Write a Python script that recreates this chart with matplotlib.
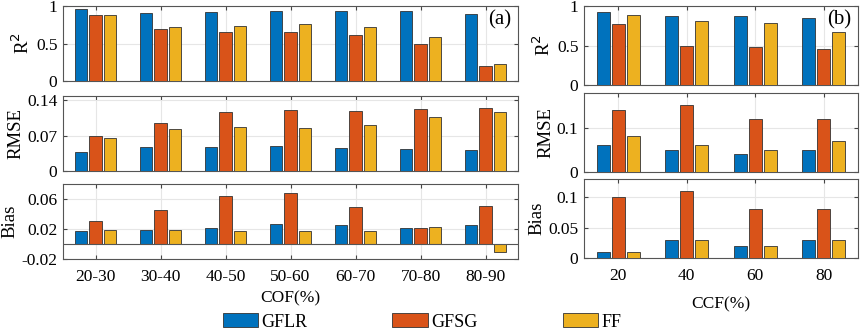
import numpy as np
import matplotlib
matplotlib.use("Agg")
import matplotlib.pyplot as plt
from matplotlib.patches import Patch

plt.rcParams['font.family'] = ['Liberation Serif', 'DejaVu Serif']
plt.rcParams['font.size'] = 12.5

# ---- data ----
methods = ['GFLR', 'GFSG', 'FF']
colors = ['#0072BD', '#D95319', '#EDB120']

cof = ['20-30', '30-40', '40-50', '50-60', '60-70', '70-80', '80-90']
r2_a = [[0.96, 0.91, 0.92, 0.94, 0.94, 0.93, 0.89],
        [0.88, 0.69, 0.65, 0.66, 0.62, 0.50, 0.20],
        [0.88, 0.72, 0.73, 0.76, 0.72, 0.59, 0.23]]
rmse_a = [[0.038, 0.048, 0.048, 0.049, 0.046, 0.044, 0.041],
          [0.069, 0.095, 0.116, 0.121, 0.118, 0.122, 0.125],
          [0.065, 0.083, 0.087, 0.085, 0.090, 0.106, 0.117]]
bias_a = [[0.018, 0.019, 0.021, 0.027, 0.026, 0.021, 0.025],
          [0.031, 0.045, 0.064, 0.068, 0.050, 0.021, 0.051],
          [0.019, 0.019, 0.017, 0.017, 0.017, 0.023, -0.011]]

ccf = ['20', '40', '60', '80']
r2_b = [[0.92, 0.87, 0.87, 0.85],
        [0.77, 0.50, 0.48, 0.45],
        [0.89, 0.81, 0.78, 0.67]]
rmse_b = [[0.06, 0.05, 0.04, 0.05],
          [0.14, 0.15, 0.12, 0.12],
          [0.08, 0.06, 0.05, 0.07]]
bias_b = [[0.01, 0.03, 0.02, 0.03],
          [0.10, 0.11, 0.08, 0.08],
          [0.01, 0.03, 0.02, 0.03]]

W, H = 865, 331
fig = plt.figure(figsize=(W / 100, H / 100), dpi=100)


def ax_px(x0, x1, y0, y1):
    return fig.add_axes([x0 / W, 1 - y1 / H, (x1 - x0) / W, (y1 - y0) / H])


def bars(ax, series, labels, ylim, yticks, yticklabels, ylabel, show_x=False):
    x = np.arange(1, len(labels) + 1)
    for i, vals in enumerate(series):
        ax.bar(x + (i - 1) * 0.22, vals, width=0.19, color=colors[i],
               edgecolor='#333333', linewidth=0.6, zorder=3)
    ax.set_xlim(0.5, len(labels) + 0.5)
    ax.set_ylim(*ylim)
    ax.set_xticks(x)
    ax.set_yticks(yticks)
    ax.set_yticklabels(yticklabels)
    if show_x:
        ax.set_xticklabels(labels)
    else:
        ax.set_xticklabels([])
    ax.set_ylabel(ylabel, labelpad=2, fontsize=13.5)
    ax.grid(True, color='#e6e6e6', linewidth=0.8, zorder=0)
    ax.tick_params(direction='in', top=True, right=True, length=3,
                   color='#444444', pad=4)
    ax.tick_params(axis='x', pad=7)
    for s in ax.spines.values():
        s.set_color('#555555')
        s.set_linewidth(0.8)
    if ylim[0] < 0:
        ax.axhline(0, color='#555555', linewidth=0.8, zorder=4)


# panel (a)
a1 = ax_px(63, 518, 6, 81)
bars(a1, r2_a, cof, (0, 1), [0, 0.5, 1], ['0', '0.5', '1'], 'R$^2$')
a1.text(0.985, 0.95, '(a)', transform=a1.transAxes, ha='right', va='top', fontsize=15)
a2 = ax_px(63, 518, 96, 171)
bars(a2, rmse_a, cof, (0, 0.148), [0, 0.07, 0.14], ['0', '0.07', '0.14'], 'RMSE')
a3 = ax_px(63, 518, 184, 259)
bars(a3, bias_a, cof, (-0.02, 0.08), [-0.02, 0.02, 0.06], ['-0.02', '0.02', '0.06'],
     'Bias', show_x=True)
a3.set_xlabel('COF(%)', labelpad=4)

# panel (b)
b1 = ax_px(584, 858, 6, 85)
bars(b1, r2_b, ccf, (0, 1), [0, 0.5, 1], ['0', '0.5', '1'], 'R$^2$')
b1.text(0.975, 0.95, '(b)', transform=b1.transAxes, ha='right', va='top', fontsize=15)
b2 = ax_px(584, 858, 93, 172)
bars(b2, rmse_b, ccf, (0, 0.178), [0, 0.1], ['0', '0.1'], 'RMSE')
b3 = ax_px(584, 858, 179, 258)
bars(b3, bias_b, ccf, (0, 0.13), [0, 0.05, 0.1], ['0', '0.05', '0.1'],
     'Bias', show_x=True)
b3.set_xlabel('CCF(%)', labelpad=9)

handles = [Patch(facecolor=c, edgecolor='#333333', linewidth=0.6) for c in colors]
fig.legend(handles, methods, loc='center', bbox_to_anchor=(422 / W, 1 - 322 / H),
           ncol=3, frameon=False, handlelength=1.95, handleheight=0.8,
           handletextpad=0.2, columnspacing=4.7, fontsize=13, borderpad=0)

fig.savefig('out.png', dpi=100)
